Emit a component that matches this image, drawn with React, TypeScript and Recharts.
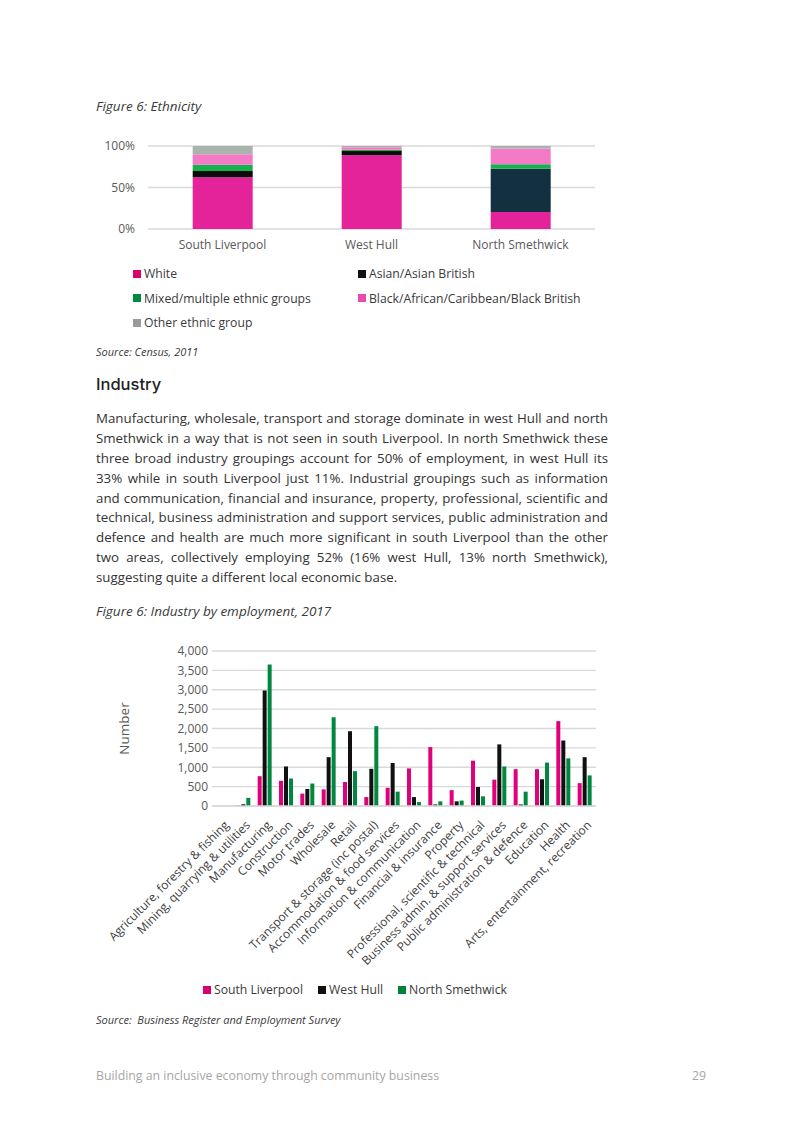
import { BarChart, Bar, XAxis, YAxis, CartesianGrid, Legend, Cell } from "recharts";

// Figure 6: Ethnicity (Census 2011), shares in %
const areas = ["South Liverpool", "West Hull", "North Smethwick"];
const white = [62.5, 89, 20.5];
const asian = [7.5, 5, 52];
const mixed = [7.5, 1.5, 5.5];
const blackAfrican = [12.5, 3, 19];
const otherGroup = [10, 1.5, 3];
const pctTicks = [0, 50, 100];

// Figure 6: Industry by employment, 2017
const industries = [
  "Agriculture, forestry & fishing",
  "Mining, quarrying & utilities",
  "Manufacturing",
  "Construction",
  "Motor trades",
  "Wholesale",
  "Retail",
  "Transport & storage (inc postal)",
  "Accommodation & food services",
  "Information & communication",
  "Financial & insurance",
  "Property",
  "Professional, scientific & technical",
  "Business admin. & support services",
  "Public administration & defence",
  "Education",
  "Health",
  "Arts, entertainment, recreation",
];
const southLiverpool = [0, 15, 770, 650, 320, 430, 620, 230, 470, 970, 1520, 410, 1170, 680, 950, 950, 2190, 590];
const westHull = [0, 45, 2980, 1020, 440, 1260, 1930, 960, 1110, 230, 40, 120, 490, 1590, 40, 690, 1690, 1260];
const northSmethwick = [0, 210, 3650, 710, 580, 2290, 900, 2060, 370, 100, 120, 140, 250, 1020, 370, 1120, 1230, 790];
const numberTicks = [0, 500, 1000, 1500, 2000, 2500, 3000, 3500, 4000];

const bodyLines = [
  "Manufacturing, wholesale, transport and storage dominate in west Hull and north",
  "Smethwick in a way that is not seen in south Liverpool. In north Smethwick these",
  "three broad industry groupings account for 50% of employment, in west Hull its",
  "33% while in south Liverpool just 11%. Industrial groupings such as information",
  "and communication, financial and insurance, property, professional, scientific and",
  "technical, business administration and support services, public administration and",
  "defence and health are much more significant in south Liverpool than the other",
  "two areas, collectively employing 52% (16% west Hull, 13% north Smethwick),",
  "suggesting quite a different local economic base.",
];

const ethnicityData = areas.map((area, i) => ({
  area,
  white: white[i],
  asian: asian[i],
  mixed: mixed[i],
  black: blackAfrican[i],
  other: otherGroup[i],
}));

const industryData = industries.map((name, i) => ({
  name,
  sl: southLiverpool[i],
  wh: westHull[i],
  ns: northSmethwick[i],
}));

const FONT = "'Open Sans', 'Noto Sans', sans-serif";
const TEXT = "#3a3a3a";
const AXIS_TEXT = "#595959";
const GRID = "#d9d9d9";

const ethnicityLegend = [
  { label: "White", color: "#d6006f" },
  { label: "Asian/Asian British", color: "#111111" },
  { label: "Mixed/multiple ethnic groups", color: "#008a3e" },
  { label: "Black/African/Caribbean/Black British", color: "#e84ab0" },
  { label: "Other ethnic group", color: "#9a9a9a" },
];

const industryLegend = [
  { label: "South Liverpool", color: "#d6006f" },
  { label: "West Hull", color: "#111111" },
  { label: "North Smethwick", color: "#00843d" },
];

function Swatch({ color }: { color: string }) {
  return (
    <span
      style={{
        display: "inline-block",
        width: 8,
        height: 8,
        background: color,
        marginRight: 3,
        verticalAlign: "middle",
        position: "relative",
        top: -1,
      }}
    />
  );
}

function EthnicityLegend() {
  return (
    <div
      style={{
        height: 80,
        position: "relative",
        fontFamily: FONT,
        fontSize: 12.2,
        color: TEXT,
      }}
    >
      {ethnicityLegend.map((item, i) => (
        <div
          key={item.label}
          style={{
            position: "absolute",
            left: i % 2 === 0 ? 43 : 268,
            top: Math.floor(i / 2) * 24.5,
            lineHeight: "24.5px",
            whiteSpace: "nowrap",
          }}
        >
          <Swatch color={item.color} />
          {item.label}
        </div>
      ))}
    </div>
  );
}

function IndustryLegend() {
  return (
    <div
      style={{
        height: 20,
        lineHeight: "20px",
        paddingLeft: 113,
        fontFamily: FONT,
        fontSize: 12.2,
        color: TEXT,
        whiteSpace: "nowrap",
      }}
    >
      {industryLegend.map((item) => (
        <span key={item.label} style={{ marginRight: 15 }}>
          <Swatch color={item.color} />
          {item.label}
        </span>
      ))}
    </div>
  );
}

function IndustryTick(props: any) {
  const { x, y, payload } = props;
  const ax = x + 4;
  const ay = y + 9;
  return (
    <text
      x={ax}
      y={ay}
      dy={4}
      textAnchor="end"
      transform={`rotate(-45, ${ax}, ${ay})`}
      fontSize={12}
      fontFamily={FONT}
      fill="#404040"
    >
      {payload.value}
    </text>
  );
}

function PageText({
  top,
  children,
  style,
}: {
  top: number;
  children: any;
  style?: any;
}) {
  return (
    <div
      style={{
        position: "absolute",
        left: 96,
        top,
        fontFamily: FONT,
        color: TEXT,
        whiteSpace: "nowrap",
        ...style,
      }}
    >
      {children}
    </div>
  );
}

export default function App() {
  return (
    <div
      style={{
        position: "absolute",
        left: 0,
        top: 0,
        width: 800,
        height: 1132,
        background: "#ffffff",
        overflow: "hidden",
      }}
    >
      <PageText top={97} style={{ fontSize: 13.5, fontStyle: "italic", lineHeight: "18px" }}>
        Figure 6: Ethnicity
      </PageText>

      <div style={{ position: "absolute", left: 90, top: 130 }}>
        <BarChart
          width={520}
          height={215}
          data={ethnicityData}
          margin={{ top: 16, right: 15, left: 0, bottom: 3 }}
          barCategoryGap="30%"
        >
          <CartesianGrid vertical={false} stroke={GRID} strokeWidth={1.3} />
          <XAxis
            dataKey="area"
            axisLine={false}
            tickLine={false}
            height={33}
            tickMargin={5}
            tick={{ fontSize: 12, fill: AXIS_TEXT, fontFamily: FONT }}
          />
          <YAxis
            width={58}
            domain={[0, 100]}
            ticks={pctTicks}
            interval={0}
            axisLine={false}
            tickLine={false}
            tickSize={0}
            tickMargin={13}
            tickFormatter={(v: number) => `${v}%`}
            tick={{ fontSize: 12, fill: AXIS_TEXT, fontFamily: FONT }}
          />
          <Legend
            verticalAlign="bottom"
            content={() => <EthnicityLegend />}
            wrapperStyle={{ left: 0, width: 520 }}
          />
          <Bar dataKey="white" stackId="e" fill="#e4239a" isAnimationActive={false} />
          <Bar dataKey="asian" stackId="e" fill="#0b0b0b" isAnimationActive={false}>
            {ethnicityData.map((d, i) => (
              <Cell key={d.area} fill={i === 2 ? "#12303f" : "#0b0b0b"} />
            ))}
          </Bar>
          <Bar dataKey="mixed" stackId="e" fill="#17b04f" isAnimationActive={false} />
          <Bar dataKey="black" stackId="e" fill="#f57ac6" isAnimationActive={false} />
          <Bar dataKey="other" stackId="e" fill="#a9b4ae" isAnimationActive={false} />
        </BarChart>
      </div>

      <PageText top={344} style={{ fontSize: 11, fontStyle: "italic", lineHeight: "16px" }}>
        Source: Census, 2011
      </PageText>

      <PageText
        top={373}
        style={{ fontFamily: "Inter, 'Open Sans', sans-serif", fontSize: 16.5, lineHeight: "22px", fontWeight: 500, color: "#222" }}
      >
        Industry
      </PageText>

      <div
        style={{
          position: "absolute",
          left: 96,
          top: 409,
          width: 512,
          fontFamily: FONT,
          fontSize: 13.3,
          color: "#333",
        }}
      >
        {bodyLines.map((line, i) => (
          <div
            key={i}
            style={{
              height: 19.9,
              lineHeight: "19.9px",
              textAlign: "justify",
              textAlignLast: i === bodyLines.length - 1 ? "left" : "justify",
              whiteSpace: "nowrap",
            }}
          >
            {line}
          </div>
        ))}
      </div>

      <PageText top={602} style={{ fontSize: 13.5, fontStyle: "italic", lineHeight: "18px" }}>
        Figure 6: Industry by employment, 2017
      </PageText>

      <div style={{ position: "absolute", left: 90, top: 635 }}>
        <BarChart
          width={520}
          height={370}
          data={industryData}
          margin={{ top: 16, right: 14, left: 0, bottom: 5 }}
          barCategoryGap="14%"
          barGap={1}
        >
          <CartesianGrid vertical={false} stroke={GRID} strokeWidth={1.3} />
          <XAxis
            dataKey="name"
            interval={0}
            height={174}
            axisLine={{ stroke: GRID, strokeWidth: 1.3 }}
            tickLine={false}
            tick={<IndustryTick />}
          />
          <YAxis
            width={122}
            domain={[0, 4000]}
            ticks={numberTicks}
            interval={0}
            axisLine={false}
            tickLine={false}
            tickSize={0}
            tickMargin={4}
            tickFormatter={(v: number) => v.toLocaleString("en-GB")}
            tick={{ fontSize: 12, fill: AXIS_TEXT, fontFamily: FONT }}
            label={{
              value: "Number",
              angle: -90,
              position: "insideLeft",
              offset: 34,
              style: { textAnchor: "middle", fontSize: 13.5, fill: AXIS_TEXT, fontFamily: FONT },
            }}
          />
          <Legend
            verticalAlign="bottom"
            content={() => <IndustryLegend />}
            wrapperStyle={{ left: 0, width: 520 }}
          />
          <Bar dataKey="sl" fill="#e0007a" isAnimationActive={false} />
          <Bar dataKey="wh" fill="#111111" isAnimationActive={false} />
          <Bar dataKey="ns" fill="#00893e" isAnimationActive={false} />
        </BarChart>
      </div>

      <PageText top={1012} style={{ fontSize: 11, fontStyle: "italic", lineHeight: "16px" }}>
        Source:&nbsp; Business Register and Employment Survey
      </PageText>

      <PageText top={1067} style={{ fontSize: 12.3, lineHeight: "18px", color: "#a6a6a6" }}>
        Building an inclusive economy through community business
      </PageText>
      <div
        style={{
          position: "absolute",
          right: 94,
          top: 1067,
          fontFamily: FONT,
          fontSize: 12.3,
          lineHeight: "18px",
          color: "#a6a6a6",
        }}
      >
        29
      </div>
    </div>
  );
}
